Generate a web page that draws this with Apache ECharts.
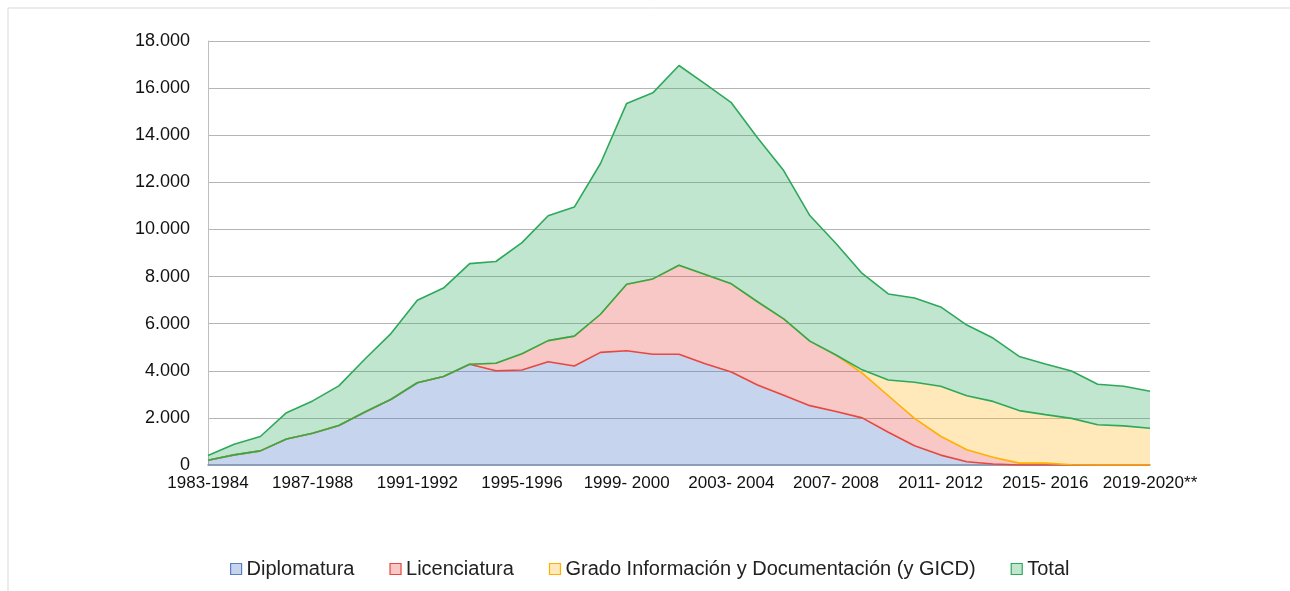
<!DOCTYPE html>
<html>
<head>
<meta charset="utf-8">
<script src="https://cdn.jsdelivr.net/npm/echarts@6/dist/echarts.min.js"></script>
<style>
  html, body { margin: 0; padding: 0; background: #fff; }
  #chart { width: 1290px; height: 591px; }
</style>
</head>
<body>
<div id="chart"></div>
<script>
// cursos academicos
var cursos = ['1983-1984','1984-1985','1985-1986','1986-1987','1987-1988','1988-1989','1989-1990','1990-1991',
  '1991-1992','1992-1993','1993-1994','1994-1995','1995-1996','1996-1997','1997-1998','1998- 1999',
  '1999- 2000','2000- 2001','2001- 2002','2002- 2003','2003- 2004','2004- 2005','2005- 2006','2006- 2007',
  '2007- 2008','2008- 2009','2009- 2010','2010- 2011','2011- 2012','2012- 2013','2013- 2014','2014- 2015',
  '2015- 2016','2016- 2017','2017- 2018','2018- 2019','2019-2020**'];

var diplomatura = [200,430,600,1100,1350,1680,2250,2790,3490,3760,4280,4000,4030,4380,4200,4780,
  4850,4700,4700,4300,3950,3400,2960,2520,2270,2000,1390,820,420,140,40,0,0,0,0,0,0];
var licenciatura = [0,0,0,0,0,0,0,0,0,0,0,320,690,900,1270,1620,
  2820,3200,3780,3790,3740,3530,3240,2740,2400,1900,1550,1160,800,510,290,80,80,10,0,0,0];
var grado = [0,0,0,0,0,0,0,0,0,0,0,0,0,0,0,0,
  0,0,0,0,0,0,0,0,0,140,670,1530,2120,2290,2370,2230,2060,1970,1710,1660,1560];
var total = [200,450,610,1120,1370,1680,2250,2800,3500,3750,4270,4320,4720,5300,5480,6400,
  7680,7900,8480,8090,7690,6960,6300,5330,4730,4090,3650,3580,3370,3000,2690,2300,2150,2010,1720,1680,1570];

var nombres = ['Diplomatura', 'Licenciatura', 'Grado Información y Documentación (y GICD)', 'Total'];

var font = "'Liberation Sans', Arial, sans-serif";

// relleno (claro) y borde de cada serie
var relleno = ['rgba(68,114,196,0.3)', 'rgba(232,72,65,0.3)', 'rgba(255,178,25,0.3)', 'rgba(48,172,98,0.3)'];
var borde = ['#5b7fc4', '#e8473f', '#ffb000', '#2ea85a'];
// linea superior de cada area (en el original la dibuja la serie de encima)
var linea = ['#e8473f', '#ffb000', '#2ea85a', '#2ea85a'];

var myChart = echarts.init(document.getElementById('chart'));

function serie(i, datos) {
  return {
    name: nombres[i],
    type: 'line',
    stack: 'todo',
    symbol: 'none',
    data: datos,
    lineStyle: { color: linea[i], width: 1.6 },
    itemStyle: { color: relleno[i], borderColor: borde[i] },
    areaStyle: { color: relleno[i], opacity: 1 }
  };
}

var option = {
  backgroundColor: '#fff',
  animation: false,
  graphic: [{
    type: 'rect',
    shape: { x: 8, y: 8, width: 1300, height: 600 },
    style: { fill: 'none', stroke: '#d9d9d9', lineWidth: 1 },
    silent: true
  }],
  grid: { left: 208, right: 140, top: 41, bottom: 126 },
  legend: {
    left: 225,
    top: 554,
    icon: 'rect',
    itemWidth: 11,
    itemHeight: 11,
    itemGap: 35,
    textStyle: { fontSize: 20, color: '#222', fontFamily: font },
    data: nombres.map(function (n, i) {
      return { name: n, itemStyle: { color: relleno[i], borderColor: borde[i], borderWidth: 1.2 } };
    })
  },
  xAxis: {
    type: 'category',
    boundaryGap: false,
    data: cursos,
    axisLine: { lineStyle: { color: '#8497b0', width: 1.5 } },
    axisTick: { show: false },
    axisLabel: { interval: 3, fontSize: 17, color: '#111', fontFamily: font, margin: 10 }
  },
  yAxis: {
    type: 'value',
    min: 0,
    max: 18000,
    interval: 2000,
    axisLine: { show: true, lineStyle: { color: '#bfbfbf' } },
    axisTick: { show: false },
    splitLine: { lineStyle: { color: '#b5b5b5' } },
    axisLabel: {
      fontSize: 18, color: '#111', fontFamily: font, margin: 18,
      formatter: function (v) { return v === 0 ? '0' : (v / 1000) + '.000'; }
    }
  },
  series: [
    serie(0, diplomatura),
    serie(1, licenciatura),
    serie(2, grado),
    serie(3, total)
  ]
};

myChart.setOption(option);
</script>
</body>
</html>
